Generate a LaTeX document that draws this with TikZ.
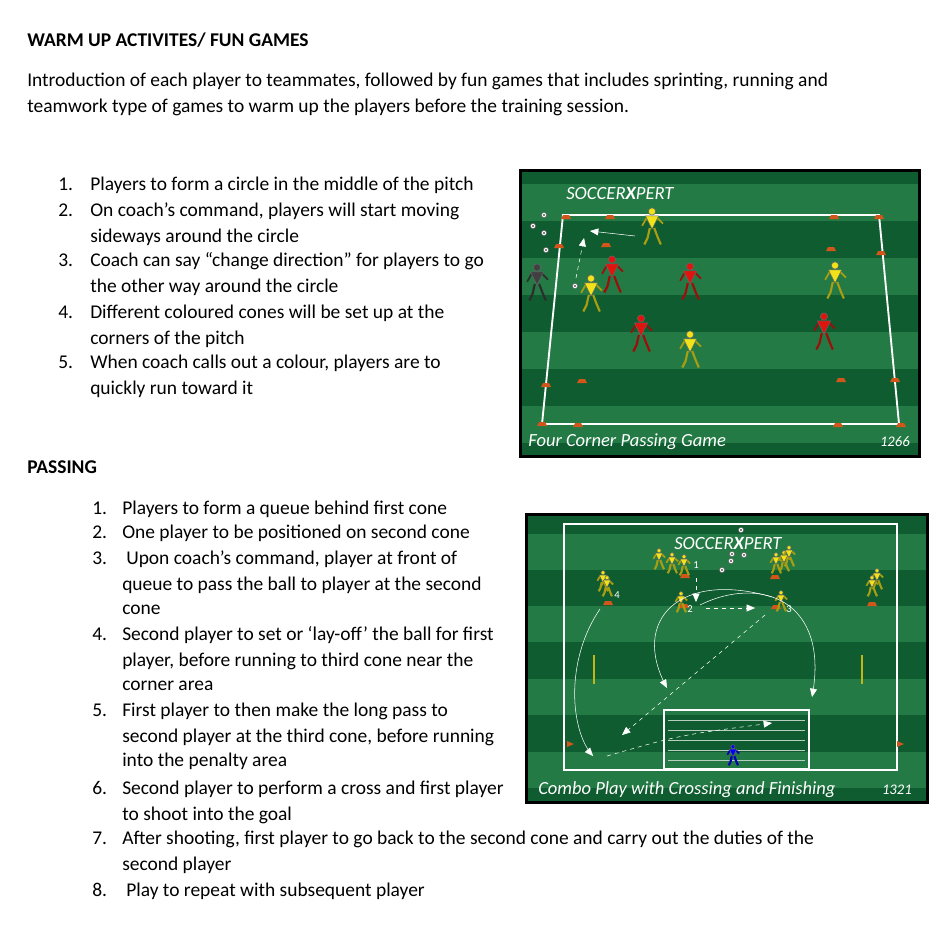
\documentclass[tikz,border=0pt]{standalone}
\usepackage{fontspec}
\setmainfont{Carlito}
\usetikzlibrary{calc, arrows}
\definecolor{pdark}{HTML}{0E5C30}
\definecolor{plight}{HTML}{247A45}
\definecolor{cone}{HTML}{D2561A}
\definecolor{pyel}{HTML}{F2E21A}
\definecolor{pred}{HTML}{E0140E}
\definecolor{pcoach}{HTML}{404040}
\tikzstyle{txt}   = [anchor=base west, inner sep=0pt, font=\fontsize{14.6}{17}\selectfont]
\tikzstyle{hdr}   = [txt, font=\fontsize{14.6}{17}\selectfont\bfseries]
\tikzstyle{bound} = [white, line width=1.4pt]
\tikzstyle{run}   = [white, thin, -triangle 45]
\tikzstyle{pass}  = [white, thin, dashed, -triangle 45]
\tikzstyle{caption} = [anchor=base west, inner sep=0pt, white, font=\fontsize{13.9}{15}\selectfont\itshape]
\tikzstyle{logo}  = [anchor=base west, inner sep=0pt, white, font=\fontsize{14}{15}\selectfont\itshape]
\newcommand{\cone}[2]{\fill[cone] (#1-5,#2+2) -- (#1-3,#2-2) -- (#1+3,#2-2) -- (#1+5,#2+2) -- cycle;}
\newcommand{\ball}[2]{\filldraw[white, draw=black!60, thin] (#1,#2) circle (2.6); \fill[black] (#1,#2) circle (0.9);}
% player: x, y, colour, scale
\newcommand{\player}[4]{%
  \begin{scope}[shift={(#1,#2)}, scale=#4]
    \draw[#3!70!black, line width=1.6pt] (-2,0) -- (-4,9) -- (-7,15);
    \draw[#3!70!black, line width=1.6pt] (2,0) -- (5,8) -- (8,15);
    \draw[#3!70!black, line width=1.3pt] (-5,-9) -- (-9,-2);
    \draw[#3!70!black, line width=1.3pt] (5,-9) -- (10,-4);
    \filldraw[fill=#3, draw=black!60, thin] (-6,-11) -- (6,-11) -- (0,1) -- cycle;
    \filldraw[fill=#3, draw=black!60, thin] (0,-15) circle (3.3);
  \end{scope}}

\begin{document}
\begin{tikzpicture}[x=0.75pt, y=-0.75pt]
  \useasboundingbox (0,0) rectangle (944,928);

  % warm up text
  \node (t1) [hdr] at (27,46) {WARM UP ACTIVITES/ FUN GAMES};
  \node (p1) [txt] at (27,86) {Introduction of each player to teammates, followed by fun games that includes sprinting, running and};
  \node (p2) [txt] at (27,112) {teamwork type of games to warm up the players before the training session.};

  \node [txt] at (58,190) {1.};  \node [txt] at (90,190) {Players to form a circle in the middle of the pitch};
  \node [txt] at (58,216) {2.};  \node [txt] at (90,216) {On coach’s command, players will start moving};
  \node [txt] at (90,242) {sideways around the circle};
  \node [txt] at (58,266) {3.};  \node [txt] at (90,266) {Coach can say “change direction” for players to go};
  \node [txt] at (90,292) {the other way around the circle};
  \node [txt] at (58,318) {4.};  \node [txt] at (90,318) {Different coloured cones will be set up at the};
  \node [txt] at (90,344) {corners of the pitch};
  \node [txt] at (58,368) {5.};  \node [txt] at (90,368) {When coach calls out a colour, players are to};
  \node [txt] at (90,394) {quickly run toward it};

  % passing text
  \node (t2) [hdr] at (27,473) {PASSING};
  \node [txt] at (92,514) {1.};  \node [txt] at (122,514) {Players to form a queue behind first cone};
  \node [txt] at (92,538) {2.};  \node [txt] at (122,538) {One player to be positioned on second cone};
  \node [txt] at (92,564) {3.};  \node [txt] at (126,564) {Upon coach’s command, player at front of};
  \node [txt] at (122,590) {queue to pass the ball to player at the second};
  \node [txt] at (122,614) {cone};
  \node [txt] at (92,640) {4.};  \node [txt] at (122,640) {Second player to set or ‘lay-off’ the ball for first};
  \node [txt] at (122,666) {player, before running to third cone near the};
  \node [txt] at (122,690) {corner area};
  \node [txt] at (92,716) {5.};  \node [txt] at (122,716) {First player to then make the long pass to};
  \node [txt] at (122,742) {second player at the third cone, before running};
  \node [txt] at (122,766) {into the penalty area};
  \node [txt] at (92,794) {6.};  \node [txt] at (122,794) {Second player to perform a cross and first player};
  \node [txt] at (122,820) {to shoot into the goal};
  \node [txt] at (92,844) {7.};  \node [txt] at (122,844) {After shooting, first player to go back to the second cone and carry out the duties of the};
  \node [txt] at (122,870) {second player};
  \node [txt] at (92,896) {8.};  \node [txt] at (126,896) {Play to repeat with subsequent player};

  % pitch one
  \fill[black] (519,169) rectangle (921,458);
  \fill[pdark] (522,172) rectangle (918,455);
  \foreach \y in {184,258,332,406} {
    \fill[plight] (522,\y) rectangle (918,\y+37);
  }
  \node (logo1) [logo] at (566,199) {SOCCER\textbf{X}PERT};
  \draw[bound] (563,215) -- (879,215) -- (899,424) -- (542,424) -- cycle;
  \foreach \x/\y in {566/217,610/217,834/217,879/217,559/246,606/245,831/249,881/253,546/385,582/381,841/380,895/380,542/424,578/425,838/425,901/425} {
    \cone{\x}{\y}
  }
  \foreach \x/\y in {544/215,533/226,544/233,546/250,575/286} { \ball{\x}{\y} }
  \player{537}{284}{pcoach}{1.1}
  \player{652}{228}{pyel}{1.1}
  \player{591}{295}{pyel}{1.1}
  \player{690}{351}{pyel}{1.1}
  \player{835}{282}{pyel}{1.1}
  \player{612}{276}{pred}{1.1}
  \player{690}{283}{pred}{1.1}
  \player{641}{335}{pred}{1.1}
  \player{824}{333}{pred}{1.1}
  \coordinate (r1a) at (635,236); \coordinate (r1b) at (590,231);
  \coordinate (r1c) at (576,278); \coordinate (r1d) at (584,238);
  \draw[run] (r1a) -- (r1b);
  \draw[pass] (r1c) -- (r1d);
  \node (cap1) [caption] at (528,446) {Four Corner Passing Game};
  \node (num1) [anchor=base east, inner sep=0pt, white, font=\fontsize{11}{12}\selectfont\itshape] at (910,446) {1266};

  % pitch two
  \fill[black] (525,513) rectangle (929,804);
  \fill[pdark] (528,516) rectangle (926,801);
  \foreach \y in {534,606,679,752} {
    \fill[plight] (528,\y) rectangle (926,\y+36);
  }
  \draw[bound] (564,524) rectangle (897,770);
  \draw[white, line width=1.2pt] (664,710) rectangle (809,769);
  \foreach \y in {720,730,740,750,760} {
    \draw[white!70!pdark, thin] (668,\y) -- (805,\y);
  }
  \draw[pyel!80!black, line width=1pt] (594,655) -- (594,684);
  \draw[pyel!80!black, line width=1pt] (862,655) -- (862,684);
  \fill[cone] (567,741) -- (574,744) -- (567,747) -- cycle;
  \fill[cone] (897,741) -- (904,744) -- (897,747) -- cycle;
  \node (logo2) [logo] at (674,549) {SOCCER\textbf{X}PERT};
  \foreach \x/\y in {741/530,732/554,744/555,731/561,722/570} { \ball{\x}{\y} }
  \foreach \x/\y in {685/576,775/577,608/603,872/604,684/606,776/607} { \cone{\x}{\y} }
  \foreach \x/\y in {659/560,672/564,684/566,776/564,784/562,789/557,603/582,607/587,877/580,872/587} {
    \player{\x}{\y}{pyel}{0.62}
  }
  \player{681}{603}{pyel}{0.62}
  \player{781}{602}{pyel}{0.62}
  \player{733}{756}{blue}{0.62}
  \node (n1) [white, font=\fontsize{8}{9}\selectfont] at (696,565) {1};
  \node (n2) [white, font=\fontsize{8}{9}\selectfont] at (690,609) {2};
  \node (n3) [white, font=\fontsize{8}{9}\selectfont] at (789,609) {3};
  \node (n4) [white, font=\fontsize{8}{9}\selectfont] at (617,595) {4};
  \coordinate (a1) at (696,578); \coordinate (a2) at (696,602);
  \coordinate (b1) at (706,608); \coordinate (b2) at (755,608);
  \coordinate (c1) at (765,615); \coordinate (c2) at (622,735);
  \coordinate (d1) at (607,756); \coordinate (d2) at (772,723);
  \coordinate (e1) at (600,609); \coordinate (e2) at (593,756);
  \coordinate (f1) at (700,605); \coordinate (f2) at (812,697);
  \coordinate (g1) at (772,597); \coordinate (g2) at (667,688);
  \draw[pass] (a1) -- (a2);
  \draw[pass] (b1) -- (b2);
  \draw[pass] (c1) -- (c2);
  \draw[pass] (d1) .. controls (680,735) .. (d2);
  \draw[run] (e1) .. controls (565,660) and (570,730) .. (e2);
  \draw[run] (f1) .. controls (760,575) and (830,600) .. (f2);
  \draw[run] (g1) .. controls (680,570) and (630,620) .. (g2);
  \node (cap2) [caption] at (538,794) {Combo Play with Crossing and Finishing};
  \node (num2) [anchor=base east, inner sep=0pt, white, font=\fontsize{11}{12}\selectfont\itshape] at (912,794) {1321};
\end{tikzpicture}
\end{document}
